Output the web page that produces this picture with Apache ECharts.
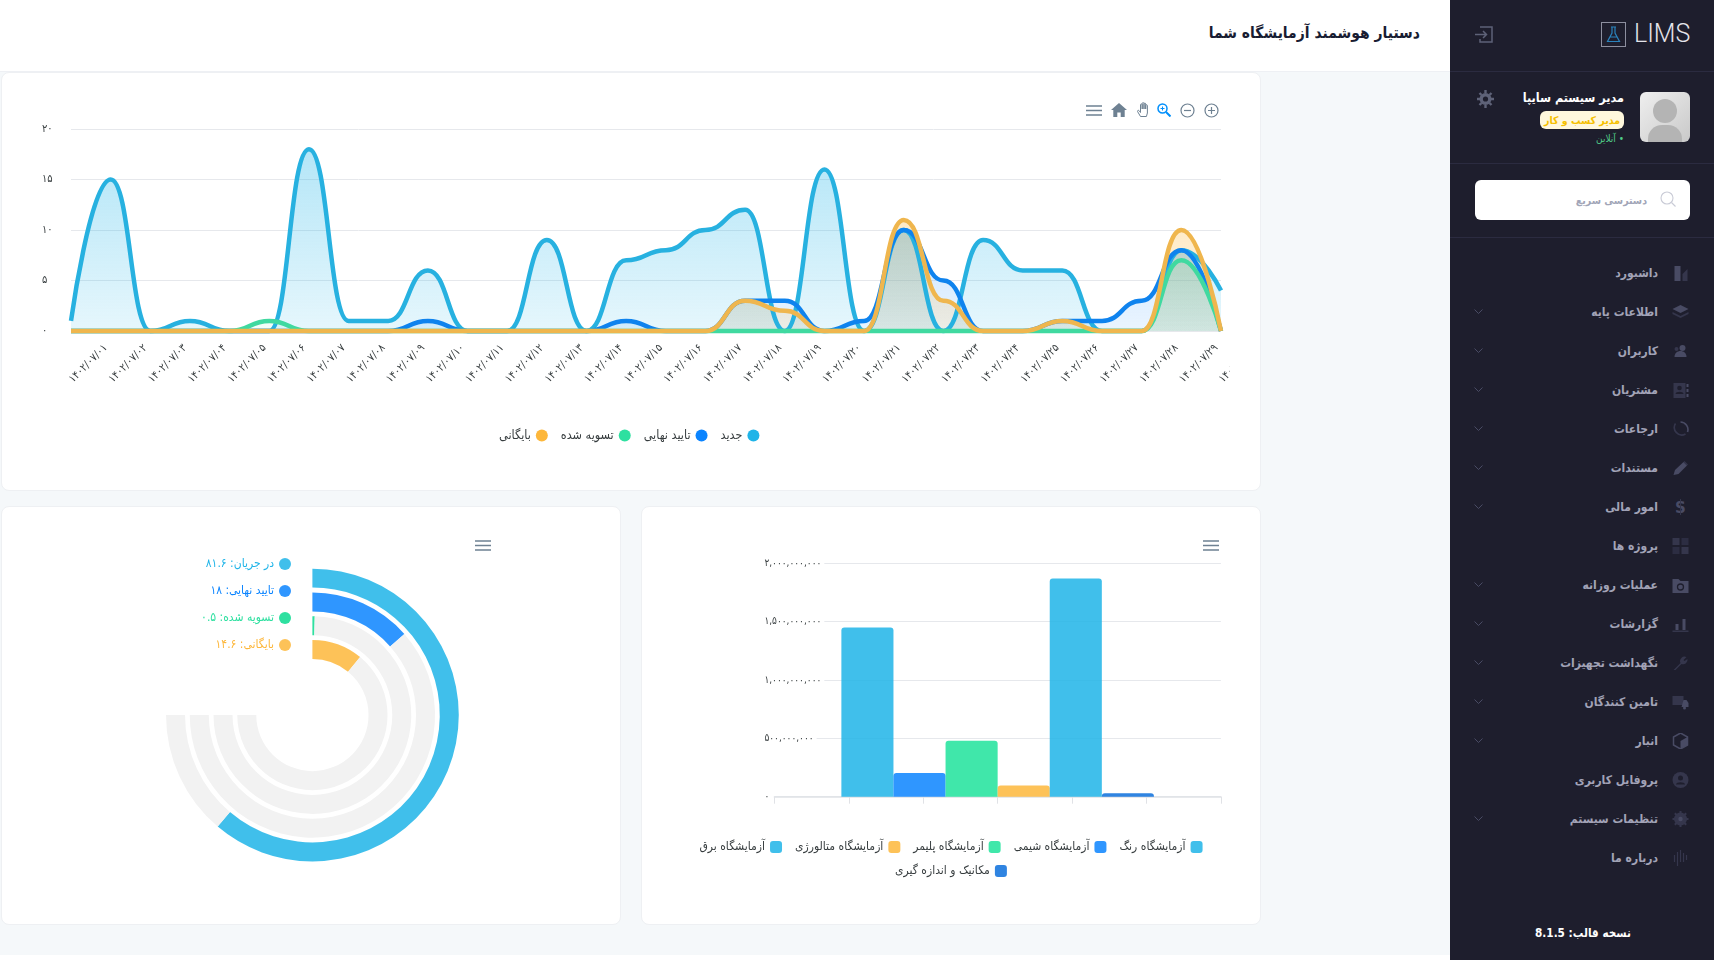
<!DOCTYPE html>
<html lang="fa" dir="rtl">
<head>
<meta charset="utf-8">
<title>LIMS</title>
<script src="https://cdn.jsdelivr.net/npm/echarts@6/dist/echarts.min.js"></script>
<style>
  * { box-sizing: border-box; }
  html, body { margin: 0; width: 1714px; height: 960px; overflow: hidden; background: #fff; font-family: "DejaVu Sans Condensed", "DejaVu Sans", sans-serif; }
  .abs { position: absolute; }
  #bg { left: 0; top: 0; width: 1450px; height: 955px; background: #f5f8fa; }
  #header { left: 0; top: 0; width: 1450px; height: 72px; background: #fff; border-bottom: 1px solid #eef0f4; }
  #title { right: 294px; top: 21px; font-size: 15.5px; font-weight: bold; color: #181c32; white-space: nowrap; line-height: 24px; }
  .card { background: #fff; border: 1px solid #eef0f3; border-radius: 8px; }
  #sidebar { left: 1450px; top: 0; width: 264px; height: 960px; background: #1e1e2d; }
  .rule { left: 0; width: 264px; height: 1px; background: #2b2b40; }
  .menu-text { right: 56px; color: #a2a3b7; font-size: 12px; font-weight: bold; white-space: nowrap; line-height: 18px; }
  svg { position: absolute; display: block; }
</style>
</head>
<body>
<div id="bg" class="abs"></div>
<div id="header" class="abs"></div>
<div id="title" class="abs">دستیار هوشمند آزمایشگاه شما</div>

<div class="abs card" style="left:1px;top:72px;width:1260px;height:419px"></div>
<div class="abs card" style="left:1px;top:506px;width:620px;height:419px"></div>
<div class="abs card" style="left:641px;top:506px;width:620px;height:419px"></div>

<div id="lineChart" class="abs" style="left:0;top:73px;width:1230px;height:417px"></div>
<div id="barChart" class="abs" style="left:642px;top:507px;width:618px;height:417px"></div>
<div id="radialChart" class="abs" style="left:2px;top:507px;width:618px;height:417px"></div>

<div id="tools"></div>
<div id="sidebar" class="abs"></div>

<script>
// نمودار روزانه
const days = ['۱۴۰۲/۰۷/۰۱','۱۴۰۲/۰۷/۰۲','۱۴۰۲/۰۷/۰۳','۱۴۰۲/۰۷/۰۴','۱۴۰۲/۰۷/۰۵','۱۴۰۲/۰۷/۰۶','۱۴۰۲/۰۷/۰۷','۱۴۰۲/۰۷/۰۸','۱۴۰۲/۰۷/۰۹','۱۴۰۲/۰۷/۱۰',
  '۱۴۰۲/۰۷/۱۱','۱۴۰۲/۰۷/۱۲','۱۴۰۲/۰۷/۱۳','۱۴۰۲/۰۷/۱۴','۱۴۰۲/۰۷/۱۵','۱۴۰۲/۰۷/۱۶','۱۴۰۲/۰۷/۱۷','۱۴۰۲/۰۷/۱۸','۱۴۰۲/۰۷/۱۹','۱۴۰۲/۰۷/۲۰',
  '۱۴۰۲/۰۷/۲۱','۱۴۰۲/۰۷/۲۲','۱۴۰۲/۰۷/۲۳','۱۴۰۲/۰۷/۲۴','۱۴۰۲/۰۷/۲۵','۱۴۰۲/۰۷/۲۶','۱۴۰۲/۰۷/۲۷','۱۴۰۲/۰۷/۲۸','۱۴۰۲/۰۷/۲۹','۱۴۰۲/۰۷/۳۰'];
const newCounts =      [1,15,0,1,0,0,18,1,1,6,0,0,9,0,7,8,10,12,0,16,0,10,0,9,6,6,0,0,8,4];
const approvedCounts = [0,0,0,0,0,0,0,0,0,1,0,0,0,0,1,0,0,3,3,0,1,10,5,0,0,1,1,3,8,0];
const settledCounts =  [0,0,0,0,0,1,0,0,0,0,0,0,0,0,0,0,0,0,0,0,0,0,0,0,0,0,0,0,7,0];
const archivedCounts = [0,0,0,0,0,0,0,0,0,0,0,0,0,0,0,0,0,3,2,0,0,11,3,0,0,1,0,0,10,0];
const statusNames = ['جدید','تایید نهایی','تسویه شده','بایگانی'];

// نمودار آزمایشگاه ها
const labNames = ['آزمایشگاه رنگ','آزمایشگاه شیمی','آزمایشگاه پلیمر','آزمایشگاه متالورژی','آزمایشگاه برق','مکانیک و اندازه گیری'];
const labValues = [1450000000, 203000000, 480000000, 97000000, 1870000000, 30000000];

// نمودار شعاعی
const radialNames = ['در جریان','تایید نهایی','تسویه شده','بایگانی'];
const radialValues = [81.6, 18, 0.5, 14.6];

const menuNames = ['داشبورد','اطلاعات پایه','کاربران','مشتریان','ارجاعات','مستندات','امور مالی','پروژه ها','عملیات روزانه','گزارشات','نگهداشت تجهیزات','تامین کنندگان','انبار','پروفایل کاربری','تنظیمات سیستم','درباره ما'];
const menuHasArrow = [0,1,1,1,1,1,1,0,1,1,1,1,1,0,1,0];

const FONT = '"DejaVu Sans Condensed", "DejaVu Sans", sans-serif';
const CYAN = '#1fb4e8', BLUE = '#0b84ff', GREEN = '#2ee0a0', ORANGE = '#fdb73b';

function fa(v) {
  return String(v).replace(/\d/g, d => '۰۱۲۳۴۵۶۷۸۹'[d]);
}
function grad(rgb, a, b) {
  return new echarts.graphic.LinearGradient(0, 0, 0, 1, [
    { offset: 0, color: 'rgba(' + rgb + ',' + a + ')' },
    { offset: 1, color: 'rgba(' + rgb + ',' + b + ')' }
  ]);
}
function areaSeries(name, data, dot, line, rgb, a, b) {
  return {
    name: name, type: 'line', data: data, smooth: 0.5, smoothMonotone: 'x',
    showSymbol: false, clip: false,
    itemStyle: { color: dot },
    lineStyle: { color: line, width: 4.5 },
    areaStyle: { color: grad(rgb, a, b), origin: 'start' }
  };
}

// ---------- line chart
const lineChart = echarts.init(document.getElementById('lineChart'));
lineChart.setOption({
  animation: false,
  textStyle: { fontFamily: FONT },
  legend: {
    left: 494, top: 351, itemWidth: 12, itemHeight: 12, itemGap: 13, icon: 'circle', align: 'right',
    data: statusNames.slice().reverse(),
    textStyle: { fontSize: 12.5, color: '#373d3f', fontFamily: FONT }
  },
  grid: { left: 71, top: 56, width: 1150, height: 202, outerBoundsMode: 'none' },
  xAxis: {
    type: 'category', data: days, boundaryGap: false,
    axisLine: { show: false }, axisTick: { show: false },
    axisLabel: { interval: 0, rotate: 45, align: 'left', verticalAlign: 'middle', margin: 50, fontSize: 11, color: '#373d3f', fontFamily: FONT }
  },
  yAxis: {
    type: 'value', min: 0, max: 20, interval: 5,
    axisLine: { show: false }, axisTick: { show: false },
    axisLabel: { align: 'left', margin: 29, padding: [0, 0, 13, 0], fontSize: 11, color: '#373d3f', fontFamily: FONT, formatter: v => fa(v) },
    splitLine: { lineStyle: { color: '#e6e8ec', width: 1 } }
  },
  series: [
    areaSeries(statusNames[0], newCounts, CYAN, '#27b1e0', '31,180,232', 0.48, 0.16),
    areaSeries(statusNames[1], approvedCounts, BLUE, '#0f83ee', '11,132,255', 0.3, 0.12),
    areaSeries(statusNames[2], settledCounts, GREEN, '#40d9a0', '46,224,160', 0.2, 0.08),
    areaSeries(statusNames[3], archivedCounts, ORANGE, '#efb64e', '253,183,59', 0.42, 0.18)
  ]
});

// ---------- bar chart
const barColors = ['#1fb4e8', '#0b84ff', '#1fe39b', '#fdb73b', '#1fb4e8', '#0b6fdc'];
const legendColors = ['#1fb4e8', '#0b84ff', '#2ee0a0', '#fdb73b', '#1fb4e8', '#0b84ff'];
const barChart = echarts.init(document.getElementById('barChart'));
const legendBase = {
  itemWidth: 12, itemHeight: 12, itemGap: 13, icon: 'roundRect', align: 'right',
  textStyle: { fontSize: 12, color: '#373d3f', fontFamily: FONT }
};
barChart.setOption({
  animation: false,
  textStyle: { fontFamily: FONT },
  color: legendColors,
  legend: [
    Object.assign({}, legendBase, { left: 'center', top: 329, data: labNames.slice(0, 5).reverse() }),
    Object.assign({}, legendBase, { left: 'center', top: 353, data: labNames.slice(5) })
  ],
  grid: { left: 132.4, top: 56.3, width: 446.5, height: 233.4, outerBoundsMode: 'none' },
  xAxis: [
    { type: 'category', data: [''], axisLine: { lineStyle: { color: '#e0e2e6', width: 1.5 } }, axisTick: { show: false }, axisLabel: { show: false } },
    { type: 'value', position: 'bottom', min: 0, max: 6, interval: 1, axisLine: { show: false },
      axisTick: { show: true, length: 7, lineStyle: { color: '#e0e2e6' } }, axisLabel: { show: false }, splitLine: { show: false } }
  ],
  yAxis: {
    type: 'value', min: 0, max: 2000000000, interval: 500000000,
    axisLine: { show: false }, axisTick: { show: false },
    axisLabel: { align: 'left', margin: 10, padding: [0, 3, 2, 0], backgroundColor: '#fff', fontSize: 10, color: '#373d3f', fontFamily: FONT,
      formatter: v => fa(v.toLocaleString('en-US')) },
    splitLine: { lineStyle: { color: '#e6e8ec', width: 1 } }
  },
  series: labNames.map((name, i) => ({
    name: name, type: 'bar', data: [labValues[i]], barGap: 0, barCategoryGap: '30%',
    itemStyle: { color: barColors[i], opacity: 0.85, borderRadius: [3, 3, 0, 0] }
  }))
});

// ---------- radial chart
const radialColors = ['#1fb4e8', '#0b84ff', '#2ee0a0', '#fdb73b'];
const radialChart = echarts.init(document.getElementById('radialChart'));
radialChart.setOption({
  animation: false,
  textStyle: { fontFamily: FONT },
  color: radialColors,
  legend: {
    orient: 'vertical', right: 324, top: 46, itemWidth: 12, itemHeight: 12, itemGap: 15, icon: 'circle', align: 'right',
    data: radialNames.map(n => n + ' '),
    formatter: n => n.trim() + ': ' + fa(radialValues[radialNames.indexOf(n.trim())]),
    textStyle: { fontSize: 12, color: 'inherit', fontFamily: FONT }
  },
  polar: { center: [310.4, 208], radius: [53.75, 148.75] },
  angleAxis: { type: 'value', min: 0, max: 100 * 360 / 270, startAngle: 90, clockwise: true, show: false },
  radiusAxis: { type: 'category', data: radialNames, inverse: true, show: false },
  series: radialNames.map((name, i) => ({
    name: name + ' ', type: 'bar', coordinateSystem: 'polar', barWidth: 19, stack: 'ring',
    data: radialValues.map((v, j) => (j === i ? v : 0)),
    itemStyle: { color: radialColors[i], opacity: i === 2 ? 1 : 0.85 }
  })).concat([
    { name: 'track', type: 'bar', coordinateSystem: 'polar', barWidth: 19, stack: 'ring', silent: true,
      data: radialValues.map(v => 100 - v), itemStyle: { color: '#f2f2f2' } }
  ])
});

// ---------- toolbars
const BURGER = '<path d="M0 1h16M0 5.5h16M0 10h16" stroke="#6e8192" stroke-width="1.6" fill="none"/>';
function tool(x, y, w, h, vb, body) {
  return '<svg style="left:' + x + 'px;top:' + y + 'px" width="' + w + '" height="' + h + '" viewBox="' + vb + '">' + body + '</svg>';
}
document.getElementById('tools').innerHTML =
  tool(1086, 105, 16, 11, '0 0 16 11', BURGER) +
  tool(1203, 540, 16, 11, '0 0 16 11', BURGER) +
  tool(475, 540, 16, 11, '0 0 16 11', BURGER) +
  tool(1111, 103, 16, 14, '0 0 16 14', '<path d="M8 0L0 7h2.3v7h4v-4.5h3.4V14h4V7H16z" fill="#6e8192"/>') +
  tool(1137, 102, 14, 15, '0 0 14 15', '<path d="M3.5 14.5L.6 9.6c-.5-1 .8-1.8 1.5-.9L3.5 10.5V2.8c0-1.2 1.7-1.2 1.7 0V7V1.5c0-1.2 1.8-1.2 1.8 0V7V2c0-1.2 1.7-1.2 1.7 0V7V3.6c0-1.2 1.7-1.2 1.7 0V11l-1 3.5z" fill="#fff" stroke="#6e8192" stroke-width="1"/>') +
  tool(1157, 103, 14, 14, '0 0 14 14', '<circle cx="5.5" cy="5.5" r="4.5" fill="none" stroke="#008ffb" stroke-width="1.5"/><path d="M9 9l4.5 4.5" stroke="#008ffb" stroke-width="2"/><path d="M3.5 5.5h4M5.5 3.5v4" stroke="#008ffb"/>') +
  tool(1180, 103, 15, 15, '0 0 15 15', '<circle cx="7.5" cy="7.5" r="6.5" fill="none" stroke="#6e8192" stroke-width="1.2"/><path d="M4 7.5h7" stroke="#6e8192" stroke-width="1.2"/>') +
  tool(1204, 103, 15, 15, '0 0 15 15', '<circle cx="7.5" cy="7.5" r="6.5" fill="none" stroke="#6e8192" stroke-width="1.2"/><path d="M4 7.5h7M7.5 4v7" stroke="#6e8192" stroke-width="1.2"/>');

// ---------- sidebar
const I = '#494b64';
const menuIcons = [
  '<path d="M2 1h6v15H2z" fill="' + I + '"/><path d="M10 9l5-5v12h-5z" fill="#35364c"/>',
  '<path d="M8 1l8 4-8 4-8-4z" fill="' + I + '"/><path d="M0 8l8 4 8-4v2l-8 4-8-4z" fill="#35364c"/>',
  '<circle cx="10" cy="5" r="3" fill="' + I + '"/><path d="M2 14c0-4 3-6 6-6s6 2 6 6z" fill="' + I + '"/><circle cx="4" cy="6" r="2" fill="#35364c"/>',
  '<path d="M1 1h12v15H1z" fill="#35364c"/><circle cx="7" cy="6" r="2.3" fill="#1e1e2d"/><path d="M3 12c0-3 8-3 8 0z" fill="#1e1e2d"/><path d="M14 2h2v3h-2zM14 7h2v3h-2zM14 12h2v3h-2z" fill="' + I + '"/>',
  '<path d="M8 1a7.5 7.5 0 0 1 7 10" fill="none" stroke="' + I + '" stroke-width="1.6"/><path d="M13 13A7.5 7.5 0 0 1 3 2.5" fill="none" stroke="#35364c" stroke-width="1.6"/>',
  '<path d="M1 15l1.5-5L11 2l3.5 3.5L6 14z" fill="' + I + '"/><path d="M12 1l3.5 3.5-1 1L11 2z" fill="#35364c"/>',
  '<text x="8" y="14" text-anchor="middle" font-size="15" font-weight="bold" font-family="DejaVu Sans" fill="' + I + '">S</text><path d="M8 0v16" stroke="#35364c"/>',
  '<path d="M0 0h7v7H0zM9 9h7v7H9z" fill="#35364c"/><path d="M9 0h7v7H9zM0 9h7v7H0z" fill="#2c2d42"/>',
  '<path d="M0 2h6l2 2h8v12H0z" fill="' + I + '"/><circle cx="8" cy="10" r="3" fill="none" stroke="#1e1e2d" stroke-width="1.3"/>',
  '<path d="M3 8h3v6H3zM10 3h3v11h-3z" fill="' + I + '"/><path d="M0 14.5h16v1.5H0z" fill="#35364c"/>',
  '<path d="M1 15L8 8a4.5 4.5 0 0 1 6-6l-3 3 1 1 3-2a4.5 4.5 0 0 1-6 5l-6 6z" fill="#35364c"/>',
  '<path d="M0 2h11v9H0z" fill="#35364c"/><path d="M11 6h3l2 3v4H9z" fill="' + I + '"/><circle cx="12" cy="14" r="1.5" fill="' + I + '"/>',
  '<path d="M8 0l7 4v8l-7 4-7-4V4z" fill="none" stroke="' + I + '" stroke-width="1.5"/><path d="M8 8l7-4v8l-7 4z" fill="' + I + '"/>',
  '<circle cx="8" cy="8" r="8" fill="#35364c"/><circle cx="8" cy="6" r="2.5" fill="#1e1e2d"/><path d="M3.5 12.5c0-3 9-3 9 0z" fill="#1e1e2d"/>',
  '<circle cx="8" cy="8" r="6.5" fill="#35364c"/><circle cx="8" cy="8" r="2.2" fill="' + I + '"/><path d="M8 0v3M8 13v3M0 8h3M13 8h3M2.3 2.3l2 2M11.7 11.7l2 2M2.3 13.7l2-2M11.7 4.3l2-2" stroke="#35364c" stroke-width="2"/>',
  '<path d="M2 5v7M5 2v14M8 0v12M11 3v9M14 5v5" stroke="#35364c" stroke-width="1.2"/>'
];
function gear(color) {
  return '<circle cx="9.5" cy="9" r="6" fill="' + color + '"/><circle cx="9.5" cy="9" r="2.6" fill="#1e1e2d"/><path d="M9.5 0v3M9.5 15v3M1 9h3M15 9h3M3.5 3l2 2M13.5 13l2 2M3.5 15l2-2M13.5 5l2-2" stroke="' + color + '" stroke-width="2.4"/>';
}
let side = '';
side += '<div class="abs rule" style="top:71px"></div><div class="abs rule" style="top:163px"></div><div class="abs rule" style="top:237px"></div>';
side += '<div class="abs" style="left:184px;top:19px;font:300 25px Roboto;color:#e4e4ea;line-height:30px" dir="ltr">LIMS</div>';
side += '<div class="abs" style="left:151px;top:22px;width:25px;height:25px;border:1px solid #8d8f9f"></div>';
side += tool(156, 26, 15, 17, '0 0 15 17', '<path d="M5 1h5M6 1v6L1.5 15.5h12L9 7V1M3.5 11h8" fill="none" stroke="#2a83bd" stroke-width="1.2"/>');
side += tool(25, 26, 18, 17, '0 0 18 17', '<path d="M5 1h12v15H5v-3M0 8.5h11M8 5l3.5 3.5L8 12" fill="none" stroke="#5e6278" stroke-width="1.5"/>');
side += '<div class="abs" style="left:190px;top:92px;width:50px;height:50px;border-radius:6px;background:linear-gradient(135deg,#efefef,#c9c9c9);overflow:hidden"><div class="abs" style="left:13px;top:7px;width:24px;height:24px;border-radius:50%;background:#b4b4b4"></div><div class="abs" style="left:8px;top:33px;width:34px;height:30px;border-radius:14px 14px 0 0;background:#b4b4b4"></div></div>';
side += '<div class="abs" style="right:90px;top:88px;color:#fff;font-size:12.5px;font-weight:bold;line-height:20px;white-space:nowrap">مدیر سیستم سایپا</div>';
side += '<div class="abs" style="left:90px;top:111px;width:84px;height:18px;background:#fff8dd;border-radius:6px;color:#f6c000;font-size:10.5px;font-weight:bold;line-height:18px;text-align:center;white-space:nowrap">مدیر کسب و کار</div>';
side += '<div class="abs" style="right:90px;top:132px;color:#50cd89;font-size:10px;line-height:14px;white-space:nowrap">• آنلاین</div>';
side += tool(26, 90, 19, 18, '0 0 19 18', gear('#5e6278'));
side += '<div class="abs" style="left:25px;top:180px;width:215px;height:40px;background:#fff;border-radius:6px"></div>';
side += tool(210, 191, 16, 16, '0 0 16 16', '<circle cx="7" cy="7" r="6" fill="none" stroke="#c9cbd6" stroke-width="1.1"/><path d="M11.5 11.5l4 4" stroke="#c9cbd6" stroke-width="1.1"/>');
side += '<div class="abs" style="right:67px;top:191px;color:#a1a5b7;font-size:10.5px;font-weight:bold;line-height:18px;white-space:nowrap">دسترسی سریع</div>';
menuNames.forEach((name, i) => {
  const cy = 272.7 + 39 * i;
  side += '<div class="abs menu-text" style="top:' + (cy - 9) + 'px">' + name + '</div>';
  side += tool(222, cy - 8, 17, 16, '0 0 16 16', menuIcons[i]);
  if (menuHasArrow[i]) {
    side += tool(24, cy - 2.5, 9, 5, '0 0 9 5', '<path d="M.5.5l4 4 4-4" fill="none" stroke="#494b64" stroke-width="1"/>');
  }
});
side += '<div class="abs" style="left:85px;top:923px;width:96px;text-align:center;color:#fff;font-size:11.7px;font-weight:bold;line-height:20px;white-space:nowrap">نسخه قالب: 8.1.5</div>';
document.getElementById('sidebar').innerHTML = side;
</script>
</body>
</html>
